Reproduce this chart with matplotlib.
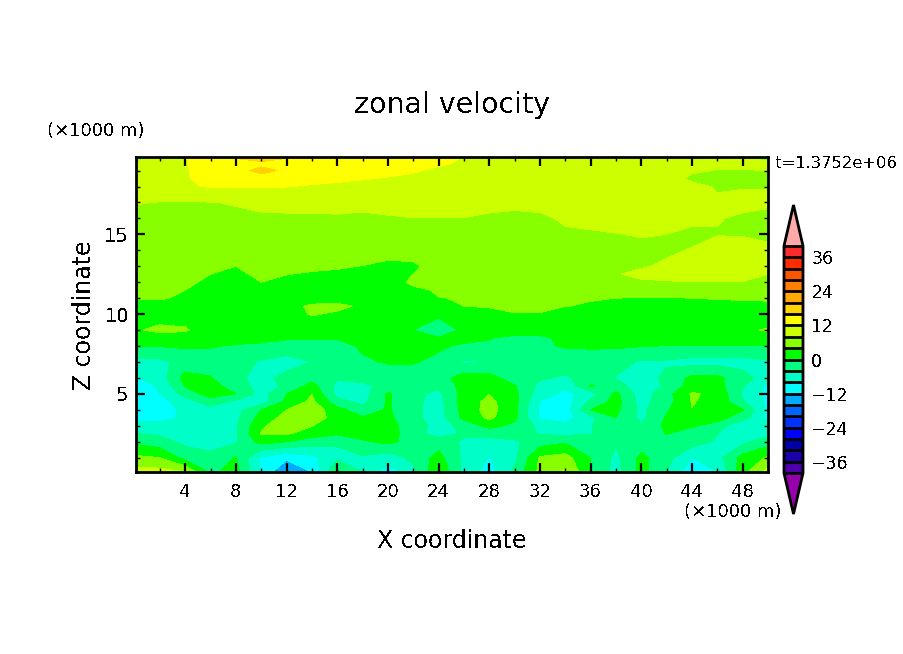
"""Zonal velocity cross section, filled contours with a colour bar."""

import matplotlib

matplotlib.use("Agg")

import matplotlib.pyplot as plt
import numpy as np
from matplotlib.colors import BoundaryNorm, ListedColormap

# grid, km
x_km = [0, 2, 4, 6, 8, 10, 12, 14, 16, 18, 20, 22, 24, 26, 28, 30, 32, 34, 36, 38, 40, 42, 44, 46, 48, 50]
z_km = [0.1, 1, 2, 2.5, 3, 3.5, 4, 4.5, 5, 5.5, 6, 7, 8, 8.5, 9, 10, 10.5, 11, 11.5, 12, 12.5, 13, 14, 15, 16, 17, 18, 18.5, 19, 19.4, 19.9]

# velocity, one row per height
u_z00 = [9.5, 9.5, 8, -0.8, 1.5, -8.5, -16.5, -12, 1, -4, -10.5, -5, 3.5, -5, -10, -3, 5, 8.5, 0, -5.5, 1.5, -4, -11, -8, 2.5, 9.5]
u_z01 = [4.8, 4, -1.5, -3, 0.3, -8.5, -11, -9, -5, -4.5, -6, -3, 1.5, -5, -8.2, -5, 4.5, 5.5, 0, -5, 1, -2.5, -8, -5.5, 1.5, 4.5]
u_z02 = [-0.8, -2.5, -5, -5.5, -4.5, 1.5, 0, -2, -3.5, -0.5, 1, -1.5, -2, -4.5, -5, -4.5, -2, -0.5, -2, -3.5, -2, -2.5, -2, -4.5, -5, -2]
u_z02h = [-3.9, -4.5, -5, -6.5, -4.5, 4.2, 4.5, 2, 0.5, 1.5, 2, -2.5, -5.5, -3.5, -3, -2.5, -4.2, -5, -4.1, -2.5, -2.5, 0.2, -2, -3.9, -6.5, -5]
u_z03 = [-7, -7, -6, -5.5, -4.5, 3.5, 6, 4.2, 0.5, 1.5, 1.5, -2, -5.5, -3, 1.5, -1, -5, -7, -4.2, -2, -3.5, 1, 0.5, -1.5, -8.5, -5]
u_z03h = [-9, -9, -7.5, -5.5, -5, 1.5, 5.5, 6, 2.5, 0.5, 1, -3, -5.8, 1.2, 4.8, 1, -8.5, -9.5, -5, 0, -5, 0.5, 2.5, 1.5, -2, -9]
u_z04 = [-9.5, -10, -7, -5.5, -5.5, 0, 4, 6.5, 1.5, -2.5, 0.5, -3, -5.8, 1.5, 5.5, 1, -8.5, -10, 0, 1, -5, -0.5, 3.9, 3, 0.3, -9]
u_z04h = [-10, -9.5, -6, -2, -5, -6, 1, 5, -2.5, -5, 0.5, -3, -5.5, 2, 5, 1.5, -8.2, -10, -3, 1.5, -5.5, -1.5, 4.2, 3, -3.5, -9]
u_z05 = [-10, -8, -2.5, 2, 0, -5.5, 0, 3.9, -5.5, -5.8, 0.5, -3, -5, 1.5, 3.9, 1, -6, -9, -6, 1, -6, -1.5, 4.5, 3, -4.5, -9]
u_z05h = [-10, -7.5, 0.3, 1.5, -2, -5.5, -3.5, 1.5, -5, -5, -2.5, -2.5, -3, 1.5, 2.5, 0.3, -5, -7, 0.5, -2.5, -6, -3.5, 2, 1.5, -3.5, -9]
u_z06 = [-8.5, -6, 1.5, 0.3, -3, -5.5, -2.5, -1.5, -3.5, -2.5, -2, -2, -2, 2, 1.5, -2, -3.5, -4.5, -2.5, -4.2, -6, -3, 1, 1, -2.5, -6]
u_z07 = [-5, -5, -2.5, -2, -2, -4.5, -6, -3.9, -1.5, -0.5, 0.3, 0.3, -0.8, -4.5, -3.9, -2, -3.9, -2, -2, -2.5, -4.5, -4.5, -5.5, -5.5, -5.5, -4.5]
u_z08 = [0.3, 0.2, 0.5, 0.3, -0.3, -0.2, -1, -1.5, -1.2, 0.5, 1.5, 1.5, 0.5, -0.5, -0.5, -0.8, -0.5, 0.3, 0.5, 0.5, 0.2, -0.1, -0.1, -0.1, 0, -0.1]
u_z08h = [1.5, 2, 2, 1.5, 1.5, 0.3, 0.3, 0.3, 0.3, 1, 1.5, 1, 0.5, 1, 0.2, -1, -0.8, 1, 1, 1, 1, 1, 1, 1, 1, 2]
u_z09 = [3.5, 5, 4.5, 1.5, 1.5, 3, 2, 1.5, 1, 1, 1, 0, -4.6, 1.5, 2, 2, 2, 2, 2, 2, 2, 2, 2, 2, 3, 4.5]
u_z10 = [2, 2, 2, 1.8, 1.5, 1.5, 2.5, 4.3, 3.5, 3, 2.5, 2, 1.5, 1, 1, 3.8, 3.8, 1.5, 1, 1, 1, 1, 1, 1, 1, 1]
u_z10h = [3, 3, 3, 2.5, 2.5, 2.5, 3, 4.5, 4.8, 3.5, 3, 3, 3, 4, 4.8, 5, 5, 4.1, 3.7, 3.5, 3.5, 3.5, 3.5, 3.5, 3.5, 3.5]
u_z11 = [4.3, 4.3, 3.5, 3, 3, 2.5, 2.5, 2.5, 2.5, 2.5, 2.5, 2.5, 3.9, 4.2, 4.8, 5, 5, 4.5, 4.2, 4, 3.8, 3.8, 4, 4.1, 4.2, 4.3]
u_z11h = [5, 5, 4, 2.5, 3.9, 2, 2, 2, 1.5, 1.5, 1.5, 3, 4.5, 5.5, 5.5, 5.5, 5.5, 5.5, 5.8, 6, 6.5, 6.8, 7, 7, 7, 7]
u_z12 = [5.5, 5.5, 4.5, 3.5, 2.5, 4, 3, 3, 2.5, 2, 1.5, 5, 5.5, 6, 6, 6, 6.5, 6.5, 6.5, 7, 7.5, 7.8, 7.9, 7.9, 7.9, 7.8]
u_z12h = [6, 6, 6, 4, 3, 5, 4.1, 3.5, 3.2, 3, 2.5, 4, 6, 6.5, 6.5, 6.5, 7, 7, 7.2, 7.8, 8.8, 9, 9, 9, 9, 8]
u_z13 = [6.5, 6.5, 6.5, 5.5, 4, 6, 5.5, 5, 4.5, 3.9, 2.5, 3, 6.5, 6.5, 6.5, 6.5, 7, 7, 7.2, 7.5, 7.7, 8.5, 9.5, 10, 10, 9]
u_z14 = [6.5, 6.5, 6.5, 6.5, 6.5, 6.5, 6.5, 6.5, 6.5, 6.5, 6.5, 6.5, 6.5, 6.8, 6.8, 6.8, 6.8, 7, 7, 7.2, 7.3, 7.5, 8.2, 10, 10, 8.5]
u_z15 = [6.8, 6.8, 6.8, 6.8, 6.8, 6.8, 6.8, 7, 7, 7, 7.2, 7.2, 7.3, 7.3, 7.3, 7.3, 7.4, 7.5, 7.6, 7.9, 8.2, 8, 7.2, 7.8, 7.7, 7.5]
u_z16 = [7, 7.2, 7.2, 7.4, 7.4, 7.5, 7.5, 7.5, 7.6, 7.6, 7.9, 7.95, 7.95, 7.95, 7.5, 7, 7.3, 8.5, 9, 9.2, 9.2, 9, 8.8, 8.2, 7.5, 7.2]
u_z17 = [8.2, 7.9, 7.8, 7.9, 8.2, 8.8, 9, 9.1, 9.1, 8.6, 8.4, 9, 9.1, 9, 9, 9, 9.2, 9.5, 9.5, 9.5, 9.5, 9.5, 9, 8.3, 9, 8.5]
u_z18 = [9, 10, 11.7, 12.2, 12.3, 12.2, 12.1, 11.7, 11.3, 10.9, 10.6, 10.4, 10.2, 10, 10, 10, 10, 10, 10, 10, 10, 9.5, 8.6, 7.8, 7.8, 7.9]
u_z18h = [9, 10.2, 11.8, 12.8, 14, 15, 14, 13, 12.7, 12.2, 11.8, 11.4, 11, 10.7, 10.5, 10.4, 10.2, 10.2, 10, 9.9, 9.7, 9, 7.6, 7, 7, 7.4]
u_z19 = [8.5, 10, 11.7, 13.5, 15.2, 16.7, 15.6, 14.8, 14.3, 13.6, 13, 12.3, 11.5, 11.2, 11, 10.8, 10.5, 10.3, 10, 9.8, 9.5, 9, 8.3, 7.9, 7.9, 8]
u_z19h = [8, 9.5, 11.8, 13.8, 15, 15.5, 15, 14.9, 14.4, 13.8, 13.5, 12.9, 12.3, 11.6, 11.2, 10.9, 10.7, 10.4, 10.2, 9.9, 9.7, 9.2, 8.6, 8.5, 8.5, 8.4]
u_z20 = [7, 9, 11.9, 14, 16.4, 17, 16.4, 15, 14.5, 14, 14, 13.5, 13, 12, 11.5, 11, 11, 10.5, 10.5, 10, 10, 9.5, 8.5, 7.8, 7.8, 7.5]

contour_levels = list(range(-40, 41, 4))
level_colors = [
    "#4b00aa", "#1a00aa", "#0000aa", "#0000ff", "#0033ff",
    "#0066ff", "#00aaff", "#00ffff", "#00ffc8", "#00ff80",
    "#00ff00", "#88ff00", "#ccff00", "#ffff00", "#ffd400",
    "#ffaa00", "#ff7f00", "#ff5500", "#ff2a00", "#ff2a2a",
]
bar_ticks = [-36, -24, -12, 0, 12, 24, 36]

plt.rcParams["font.family"] = "DejaVu Sans"
plt.rcParams["text.antialiased"] = False

WIDTH, HEIGHT = 904, 654


def main() -> None:
    u_rows = [
        u_z00, u_z01, u_z02, u_z02h, u_z03, u_z03h, u_z04, u_z04h, u_z05, u_z05h, u_z06, u_z07, u_z08, u_z08h, u_z09,
        u_z10, u_z10h, u_z11, u_z11h, u_z12, u_z12h, u_z13, u_z14, u_z15, u_z16, u_z17, u_z18, u_z18h, u_z19, u_z19h, u_z20,
    ]
    u = np.array(u_rows)

    cmap = ListedColormap(level_colors)
    cmap.set_under("#9400aa")
    cmap.set_over("#ffaaaa")
    norm = BoundaryNorm(contour_levels, cmap.N)

    fig = plt.figure(figsize=(WIDTH / 100, HEIGHT / 100), dpi=100)
    ax = fig.add_axes([136 / WIDTH, 1 - 472 / HEIGHT, (768 - 136) / WIDTH, (472 - 157) / HEIGHT])
    filled = ax.contourf(x_km, z_km, u, levels=contour_levels, cmap=cmap, norm=norm, extend="both", antialiased=False)

    ax.set_xlim(0.12, 50)
    ax.set_ylim(0.1, 19.85)
    ax.set_xticks(np.arange(4, 49, 4))
    ax.set_xticks(np.arange(2, 50, 2), minor=True)
    ax.set_yticks([5, 10, 15])
    ax.set_yticks(np.arange(1, 20), minor=True)
    ax.tick_params(which="major", direction="in", top=True, right=True, length=6.5, width=1.6, labelsize=13, pad=8)
    ax.tick_params(which="minor", direction="in", top=True, right=True, length=3.2, width=1)
    ax.tick_params(axis="y", which="major", labelsize=14, pad=5)
    for spine in ax.spines.values():
        spine.set_linewidth(2)

    fig.text(452 / WIDTH, 1 - 105 / HEIGHT, "zonal velocity", fontsize=20.5, ha="center", va="center")
    fig.text(96 / WIDTH, 1 - 130.5 / HEIGHT, "(×1000 m)", fontsize=13, ha="center", va="center")
    fig.text(733 / WIDTH, 1 - 512 / HEIGHT, "(×1000 m)", fontsize=13, ha="center", va="center")
    fig.text(452 / WIDTH, 1 - 541 / HEIGHT, "X coordinate", fontsize=17, ha="center", va="center")
    fig.text(84 / WIDTH, 1 - 315 / HEIGHT, "Z coordinate", fontsize=17, ha="center", va="center", rotation=90)
    fig.text(837 / WIDTH, 1 - 163 / HEIGHT, "t=1.3752e+06", fontsize=11.8, ha="center", va="center")

    # interior of the bar runs from y=246 to y=473, the triangles stick out past it
    cax = fig.add_axes([784 / WIDTH, 1 - 514 / HEIGHT, 19 / WIDTH, (514 - 205) / HEIGHT])
    bar = fig.colorbar(filled, cax=cax, extend="both", extendfrac=0.18, drawedges=True, ticks=bar_ticks)
    bar.dividers.set_linewidth(2)
    bar.dividers.set_color("black")
    bar.outline.set_linewidth(2)
    cax.tick_params(length=0, labelsize=12.5, pad=6)
    cax.minorticks_off()

    fig.savefig("out.png", dpi=100)
    plt.close(fig)


if __name__ == "__main__":
    main()
